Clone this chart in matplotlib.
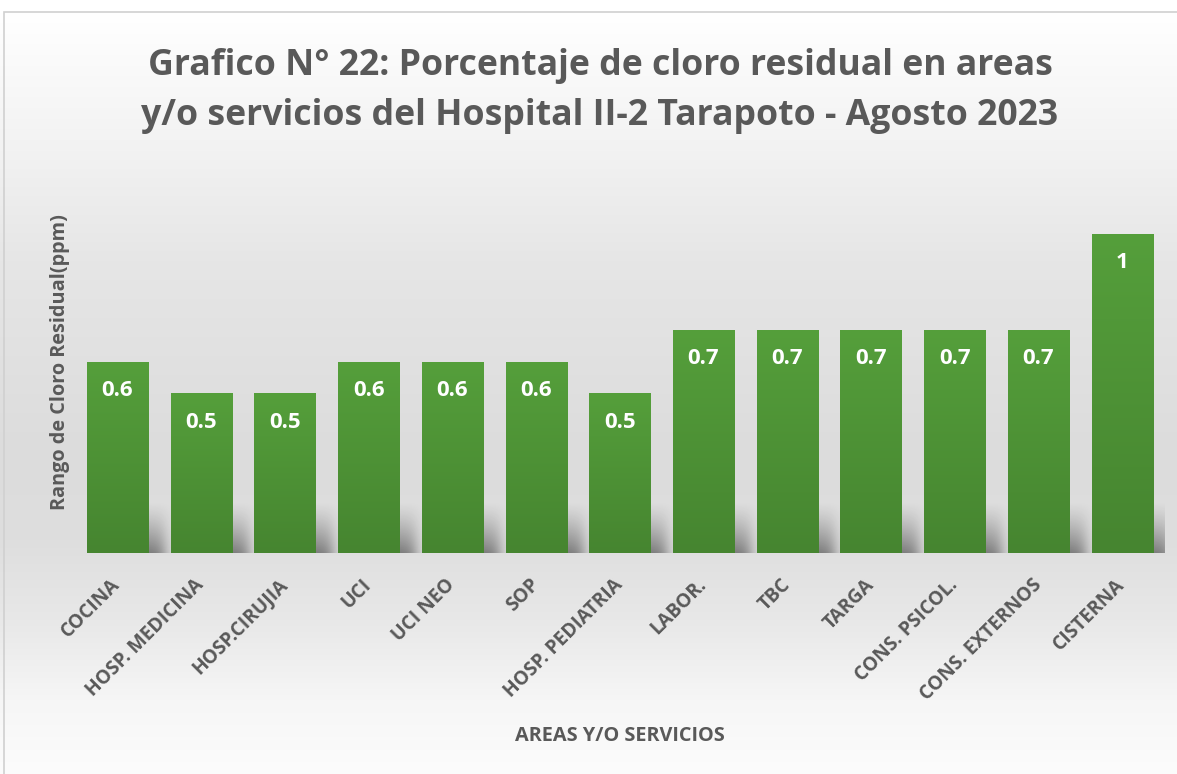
import numpy as np
import matplotlib
matplotlib.use("Agg")
import matplotlib.pyplot as plt
from matplotlib.patches import Rectangle
from matplotlib.colors import LinearSegmentedColormap

categories = ["COCINA", "HOSP. MEDICINA", "HOSP.CIRUJIA", "UCI", "UCI NEO", "SOP",
              "HOSP. PEDIATRIA", "LABOR.", "TBC", "TARGA", "CONS. PSICOL.",
              "CONS. EXTERNOS", "CISTERNA"]
values = [0.6, 0.5, 0.5, 0.6, 0.6, 0.6, 0.5, 0.7, 0.7, 0.7, 0.7, 0.7, 1]
value_labels = ["0.6", "0.5", "0.5", "0.6", "0.6", "0.6", "0.5", "0.7", "0.7",
                "0.7", "0.7", "0.7", "1"]

title = "Grafico N° 22: Porcentaje de cloro residual en areas\ny/o servicios del Hospital II-2 Tarapoto - Agosto 2023"
ylabel = "Rango de Cloro Residual(ppm)"
xlabel = "AREAS Y/O SERVICIOS"

FONT = "Open Sans"
GRAY = "#595959"
W, H = 1177, 774
fig = plt.figure(figsize=(W / 100, H / 100), dpi=100)
fig.patch.set_facecolor("white")

# background gradient (figure level)
bg = fig.add_axes([0, 0, 1, 1], zorder=-10)
bg.set_axis_off()
ys = np.array([0, 12, 150, 260, 450, 540, 620, 700, 774])
vs = np.array([255, 255, 242, 230, 220, 222, 232, 246, 252]) / 255.0
yy = np.arange(H)
col = np.interp(yy, ys, vs)
img = np.repeat(col[:, None], 10, axis=1)
img = np.dstack([img, img, img])
bg.imshow(img, extent=[0, 1, 0, 1], aspect="auto", origin="upper")
bg.set_xlim(0, 1); bg.set_ylim(0, 1)
bg.add_patch(Rectangle((4 / W, -0.01), 1.2, 1 - 12 / H + 0.01, fill=False,
                       edgecolor="#d0d0d0", linewidth=1.2, transform=bg.transAxes))

left = 75.6 / W
right = 1164 / W
bottom = 1 - 553 / H
top = 1 - 170 / H
ax = fig.add_axes([left, bottom, right - left, top - bottom])
ax.set_facecolor("none")
for s in ax.spines.values():
    s.set_visible(False)

x = np.arange(len(categories))
bw = 0.73
bars = ax.bar(x, values, width=bw, color="#4e953a", zorder=3)

cmap = LinearSegmentedColormap.from_list("g", ["#468530", "#559f3b"])
grad = np.linspace(0, 1, 256)[:, None]
sx = np.linspace(0, 1, 80)
sy = np.linspace(0, 1, 60)
fx = 1 / (1 + np.exp(-(sx - 0.12) / 0.05)) * (1 / (1 + np.exp((sx - 0.88) / 0.05)))
gy = np.clip(1 - sy, 0, 1) ** 1.3
alpha = (gy[:, None] * fx[None, :]) * 0.45
shadow = np.zeros((60, 80, 4))
shadow[..., 3] = alpha
for b in bars:
    x0, w, h = b.get_x(), b.get_width(), b.get_height()
    ax.imshow(shadow, extent=[x0 + 0.05, x0 + w + 0.32, 0, 0.16], origin="lower",
              aspect="auto", zorder=1, interpolation="bilinear")
    im = ax.imshow(grad, extent=[x0, x0 + w, 0, h], origin="lower", cmap=cmap,
                   aspect="auto", zorder=4, interpolation="bilinear")
    im.set_clip_path(b)

for xi, v, lab in zip(x, values, value_labels):
    ax.annotate(lab, (xi, v), xytext=(0, -21), textcoords="offset points",
                ha="center", va="center", color="white", fontsize=16,
                fontweight="bold", family=FONT, zorder=5)

ax.set_xlim(-0.5, len(categories) - 0.5)
ax.set_ylim(0, 1.2)
ax.set_yticks([])
ax.set_xticks(x)
ax.set_xticklabels(categories, rotation=45, ha="right", va="center",
                   rotation_mode="anchor", fontsize=13.8, fontweight="bold",
                   color=GRAY, family=FONT)
ax.tick_params(axis="x", length=0, pad=21)

fig.text(600 / W, 1 - 91 / H, title, ha="center", va="center", fontsize=25.7,
         fontweight="bold", color=GRAY, family=FONT, linespacing=1.55)
fig.text(60 / W, 1 - 362 / H, ylabel, rotation=90, ha="center", va="center",
         fontsize=14.3, fontweight="bold", color=GRAY, family=FONT)
fig.text(620 / W, 1 - 736 / H, xlabel, ha="center", va="center",
         fontsize=14.3, fontweight="bold", color=GRAY, family=FONT)

fig.savefig("out.png", dpi=100)
